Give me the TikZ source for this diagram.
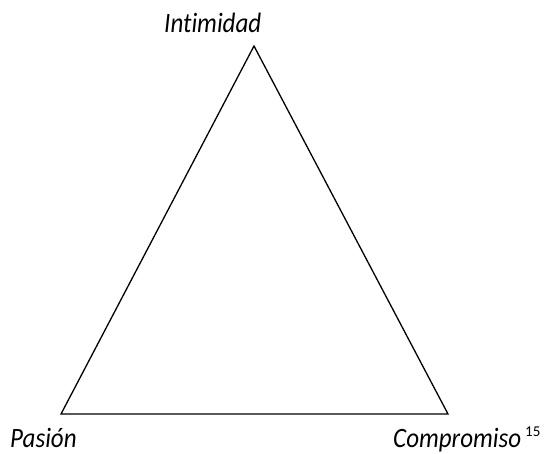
\documentclass[tikz,border=0pt]{standalone}
\usepackage{fontspec}
\setmainfont{Carlito}[Ligatures=CommonOff]
\newcommand{\tall}[1]{\scalebox{1}[1.12]{#1}}
\begin{document}
\begin{tikzpicture}[x=1pt,y=-1pt,
  lbl/.style={font=\fontsize{25}{30}\selectfont\itshape, inner sep=0pt},
  edge/.style={line width=1.3pt, line join=miter}]
\useasboundingbox (0,0) rectangle (551,453);
\coordinate (top) at (254,46);
\coordinate (bl) at (61,414);
\coordinate (br) at (448,414);
\draw[edge] (top) -- (bl) -- (br) -- cycle;
\node[lbl, anchor=base west] (int) at (164,32) {\tall{Intimidad}};
\node[lbl, anchor=base west] (pas) at (10,447) {\tall{Pasión}};
\node[lbl, anchor=base west] (com) at (393,447) {\tall{Compromiso}};
\node[font=\fontsize{15}{18}\selectfont, inner sep=0pt, anchor=base west] (fn) at (525,436) {15};
\end{tikzpicture}
\end{document}
